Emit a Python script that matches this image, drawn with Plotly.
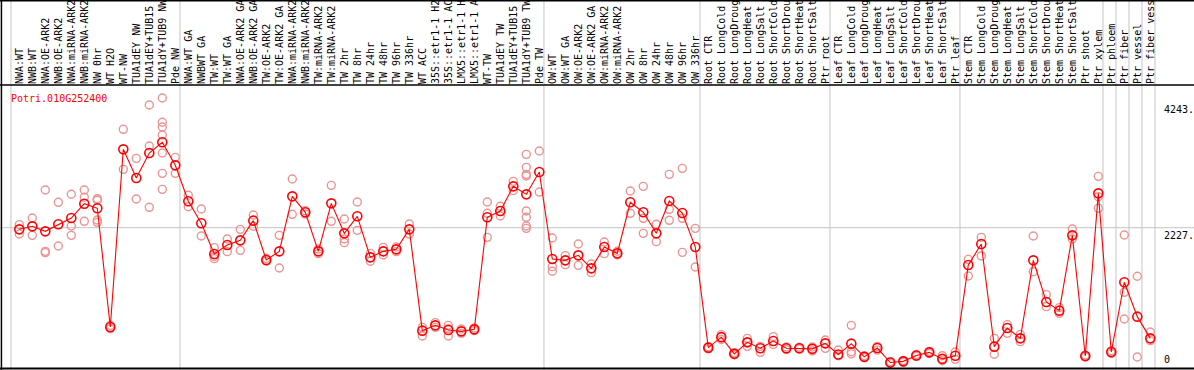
import plotly.graph_objects as go

gene_name = "Potri.010G252400"

sample_labels = [
    "NWA:WT", "NWB:WT", "NWA:OE-ARK2", "NWB:OE-ARK2", "NWA:miRNA-ARK2", "NWB:miRNA-ARK2",
    "NW 0hr", "WT H2O", "WT-NW", "TUA1dEY NW", "TUA1dEY+TUB15", "TUA1dY+TUB9 NW", "Pde NW",
    "NWA:WT GA", "NWBWT GA", "TW:WT", "TW:WT GA", "NWA:OE-ARK2 GA", "NWB:OE-ARK2 GA",
    "TW:OE-ARK2", "TW:OE-ARK2 GA", "NWA:miRNA-ARK2", "NWB:miRNA-ARK2", "TW:miRNA-ARK2",
    "TW:miRNA-ARK2", "TW 2hr", "TW 8hr", "TW 24hr", "TW 48hr", "TW 96hr", "TW 336hr",
    "WT ACC", "35S::etr1-1 H2", "35S::etr1-1 AC", "LMX5::etr1-1 H", "LMX5::etr1-1 A",
    "WT-TW", "TUA1dEY TW", "TUA1dEY+TUB15", "TUA1dY+TUB9 TW", "Pde TW",
    "OW:WT", "OW:WT GA", "OW:OE-ARK2", "OW:OE-ARK2 GA", "OW:miRNA-ARK2", "OW:miRNA-ARK2",
    "OW 2hr", "OW 8hr", "OW 24hr", "OW 48hr", "OW 96hr", "OW 336hr",
    "Root CTR", "Root LongCold", "Root LongDroug", "Root LongHeat", "Root LongSalt",
    "Root ShortCold", "Root ShortDrou", "Root ShortHeat", "Root ShortSalt", "Ptr root",
    "Leaf CTR", "Leaf LongCold", "Leaf LongDroug", "Leaf LongHeat", "Leaf LongSalt",
    "Leaf ShortCold", "Leaf ShortDrou", "Leaf ShortHeat", "Leaf ShortSalt", "Ptr leaf",
    "Stem CTR", "Stem LongCold", "Stem LongDroug", "Stem LongHeat", "Stem LongSalt",
    "Stem ShortCold", "Stem ShortDrou", "Stem ShortHeat", "Stem ShortSalt",
    "Ptr shoot", "Ptr xylem", "Ptr phloem", "Ptr fiber", "Ptr vessel", "Ptr fiber vess",
]

mean_values = [
    2201, 2249, 2169, 2281, 2382, 2611, 2537, 639, 3480, 3022, 3421, 3592, 3224,
    2649, 2297, 1807, 1950, 2025, 2340, 1711, 1849, 2728, 2473, 1849, 2616, 2137,
    2409, 1753, 1849, 1881, 2201, 581, 666, 592, 570, 602, 2393, 2494, 2888, 2760,
    3118, 1727, 1705, 1785, 1577, 1918, 1817, 2633, 2473, 2137, 2654, 2462, 1918,
    309, 477, 210, 394, 300, 415, 300, 300, 290, 378,
    200, 373, 162, 303, 72, 90, 184, 234, 130, 181,
    1631, 1966, 325, 624, 458, 1705, 1039, 901, 2105,
    176, 2776, 240, 1354, 805, 458,
]

replicate_values = [
    [2276, 2126], [2382, 2105], [2830, 1849, 1828], [2633, 1934], [2761, 2254, 2105],
    [2830, 2713, 2329], [2691, 2665, 2350, 2313], [665, 612], [3800, 3160], [3336, 2686],
    [4189, 3533, 2553], [4301, 3912, 3837, 3709, 3421, 3096, 2840], [3352, 3096],
    [2745, 2563], [2526, 2094], [1908, 1766, 1732], [2046, 1844], [2201, 1865],
    [2430, 2250], [1735, 1690], [2105, 1583], [3006, 2441], [2500, 2445], [1886, 1812],
    [2904, 2329], [2366, 2046, 1988], [2638, 2185], [1817, 1690], [1913, 1791],
    [1918, 1844], [2286, 2126], [634, 496], [709, 634], [666, 496, 614], [608, 538],
    [623, 581], [2638, 2457, 2073], [2569, 2414], [2968, 2819],
    [3400, 3192, 3080, 3054, 2494, 2393, 2254, 2217], [3453, 2798], [2062, 1604, 1530],
    [1780, 1636], [1966, 1625], [1646, 1508], [1998, 1812], [1850, 1790], [2814, 2457],
    [2888, 2377, 2137], [2281, 2004], [3080, 2521, 2345], [3176, 2377, 1833], [2217, 1599],
    [325, 290], [517, 440], [230, 195], [458, 394, 330], [330, 234], [485, 360],
    [320, 280], [315, 285], [320, 255], [432, 298],
    [272, 180], [666, 245, 210], [180, 150], [330, 270], [85, 60], [105, 75],
    [200, 170], [250, 215], [181, 101], [240, 122],
    [1721, 1455], [2073, 1775], [458, 203], [677, 538], [522, 405], [2094, 1524],
    [1157, 965], [950, 858], [2206, 2046],
    [190, 160], [3048, 2723, 2537], [260, 215], [2110, 1194, 767], [1450, 160], [560, 421],
]

# group separators (after these sample indices)
group_ends = [-1, 12, 40, 52, 62, 72, 83, 84, 85, 86, 87]

ytick_values = [0, 2227, 4243]
ytick_texts = ["0", "2227.", "4243."]

W, H = 1194, 370
HEADER_PX = 85
MONO = "DejaVu Sans Mono"

x_idx = list(range(len(sample_labels)))

rep_x, rep_y = [], []
for i, reps in enumerate(replicate_values):
    for v in reps:
        rep_x.append(i)
        rep_y.append(v)

fig = go.Figure()
fig.add_trace(go.Scatter(
    x=rep_x, y=rep_y, mode="markers",
    marker=dict(symbol="circle-open", size=8, color="#ec9494", line=dict(width=1.4)),
    hoverinfo="skip", showlegend=False,
))
fig.add_trace(go.Scatter(
    x=x_idx, y=mean_values, mode="lines+markers",
    line=dict(color="#ff0000", width=1.1),
    marker=dict(symbol="circle-open", size=9, color="#ff0000", line=dict(width=1.6)),
    showlegend=False,
))

shapes = []
for b in group_ends:
    shapes.append(dict(type="line", xref="x", yref="paper", x0=b + 0.36, x1=b + 0.36,
                       y0=0, y1=1, line=dict(color="#c4c4c4", width=1), layer="below"))
shapes.append(dict(type="line", xref="paper", yref="y", x0=0, x1=1,
                   y0=ytick_values[1], y1=ytick_values[1],
                   line=dict(color="#c4c4c4", width=1), layer="below"))
header_y = 1 - HEADER_PX / H
shapes += [
    dict(type="line", xref="paper", yref="paper", x0=0, x1=1, y0=header_y, y1=header_y,
         line=dict(color="black", width=1.5)),
    dict(type="line", xref="paper", yref="paper", x0=0, x1=1, y0=0.998, y1=0.998,
         line=dict(color="black", width=1.5)),
    dict(type="line", xref="paper", yref="paper", x0=0, x1=1, y0=0.004, y1=0.004,
         line=dict(color="black", width=2)),
    dict(type="line", xref="paper", yref="paper", x0=0.0012, x1=0.0012, y0=0, y1=1,
         line=dict(color="black", width=1.5)),
]

annotations = [dict(text=gene_name, xref="paper", yref="paper", x=9 / W, y=1 - 91 / H,
                    xanchor="left", yanchor="top", showarrow=False,
                    font=dict(family=MONO, size=10, color="#ff0000"))]
for v, t in zip(ytick_values, ytick_texts):
    annotations.append(dict(text=t, xref="paper", yref="y", x=1162 / W, y=v,
                            xanchor="left", yanchor="bottom" if v == 0 else "top",
                            showarrow=False,
                            font=dict(family=MONO, size=10, color="black")))

# x: sample i centred at 19.3 + 13*i px ; y: 0 at 367 px, 0.06255 px per unit
x0 = -19.3 / 13
x1 = x0 + W / 13
ypx = 0.06255
y_lo = -(370 - 367) / ypx
y_hi = (367 - HEADER_PX) / ypx

fig.update_layout(
    width=W, height=H, margin=dict(l=0, r=0, t=0, b=0),
    paper_bgcolor="white", plot_bgcolor="white",
    shapes=shapes, annotations=annotations,
    xaxis=dict(range=[x0, x1], side="top", tickmode="array", tickvals=x_idx,
               ticktext=sample_labels, tickangle=-90, showgrid=False, zeroline=False,
               ticks="", showline=False, automargin=False,
               tickfont=dict(family=MONO, size=10, color="black")),
    yaxis=dict(range=[y_lo, y_hi], domain=[0, header_y], showgrid=False, zeroline=False,
               showticklabels=False, ticks="", automargin=False),
)

fig.write_html("out.html", config={"displayModeBar": False},
               post_script="document.body.style.margin='0';document.body.style.overflow='hidden';")
